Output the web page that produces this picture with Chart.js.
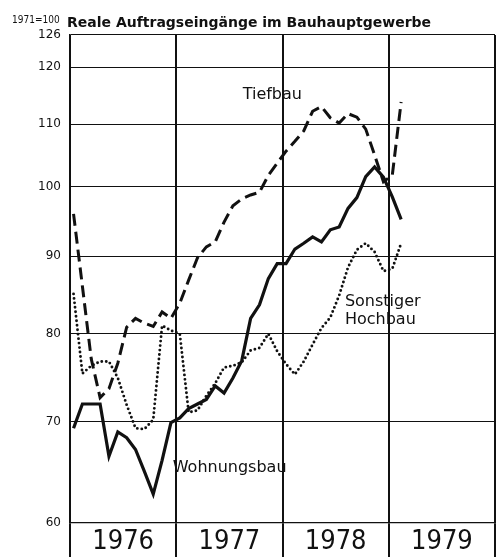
<!DOCTYPE html>
<html>
<head>
<meta charset="utf-8">
<script src="https://cdn.jsdelivr.net/npm/chart.js@4.4.1/dist/chart.umd.min.js"></script>
<style>
  html, body { margin: 0; padding: 0; background: #fff; }
  #wrap { position: relative; width: 496px; height: 557px; }
</style>
</head>
<body>
<div id="wrap"><canvas id="chart"></canvas></div>
<script>
// monthly values, Jan 1976 .. Feb 1979 (1971 = 100)
const years = ["1976", "1977", "1978", "1979"];
const yTicks = [60, 70, 80, 90, 100, 110, 120, 126];

const wohnungsbau = [
  69.3, 71.9, 71.9, 71.9, 66.4, 68.9, 68.3, 67.1, 64.9, 62.7, 66.0, 69.9,
  70.4, 71.4, 71.9, 72.4, 73.9, 73.1, 74.8, 76.8, 81.9, 83.6, 87.0, 89.0,
  89.0, 91.0, 91.8, 92.7, 92.0, 93.7, 94.1, 96.8, 98.4, 101.6, 103.1, 101.5,
  98.5, 95.2
];
const tiefbau = [
  96.0, 86.0, 77.0, 72.6, 73.6, 76.5, 80.8, 81.9, 81.3, 80.9, 82.7, 81.9,
  83.8, 86.8, 89.8, 91.3, 92.0, 94.8, 97.2, 98.2, 98.8, 99.2, 101.8, 103.7,
  105.6, 107.2, 108.9, 112.2, 113.0, 111.1, 110.2, 111.8, 111.2, 109.2, 105.0, 100.8,
  101.8, 113.8
];
const sonstigerHochbau = [
  85.0, 75.3, 76.2, 76.7, 76.7, 74.8, 71.8, 69.3, 69.2, 70.2, 81.0, 80.4,
  80.0, 71.0, 71.2, 72.8, 74.2, 76.0, 76.2, 76.6, 78.0, 78.3, 80.0, 77.9,
  76.4, 75.2, 76.7, 78.7, 80.7, 82.0, 84.8, 88.5, 90.9, 91.8, 90.6, 88.0,
  88.3, 91.8
];

// series labels, placed in data coordinates (month, index value)
const seriesLabels = [
  { text: "Tiefbau", x: 19.5, y: 115.1 },
  { text: "Sonstiger", x: 31.05, y: 84.0 },
  { text: "Hochbau", x: 31.05, y: 81.7 },
  { text: "Wohnungsbau", x: 11.6, y: 65.2 },
];

function toPoints(arr) {
  return arr.map((v, i) => ({ x: i + 0.4, y: v }));
}

const textPlugin = {
  id: "texts",
  afterDraw(chart) {
    const { ctx } = chart;
    const xs = chart.scales.x;
    const ys = chart.scales.y;
    ctx.save();
    ctx.fillStyle = "#111";
    ctx.textBaseline = "alphabetic";
    ctx.font = "10px 'DejaVu Sans Condensed', 'DejaVu Sans'";
    ctx.fillText("1971=100", 12, 23);
    ctx.font = "bold 14px 'DejaVu Sans'";
    ctx.fillText("Reale Auftragseingänge im Bauhauptgewerbe", 67, 27);

    ctx.font = "16px 'DejaVu Sans'";
    ctx.textBaseline = "middle";
    seriesLabels.forEach(l => {
      ctx.fillText(l.text, xs.getPixelForValue(l.x), ys.getPixelForValue(l.y));
    });
    ctx.restore();
  },
};

new Chart(document.getElementById("chart"), {
  type: "line",
  data: {
    datasets: [
      {
        label: "Wohnungsbau",
        data: toPoints(wohnungsbau),
        borderColor: "#111",
        borderWidth: 3.2,
        pointRadius: 0,
        tension: 0,
      },
      {
        label: "Tiefbau",
        data: toPoints(tiefbau),
        borderColor: "#111",
        borderWidth: 3,
        borderDash: [12, 6],
        pointRadius: 0,
        tension: 0,
      },
      {
        label: "Sonstiger Hochbau",
        data: toPoints(sonstigerHochbau),
        borderColor: "#111",
        borderWidth: 2.9,
        borderDash: [0, 4.5],
        borderCapStyle: "round",
        pointRadius: 0,
        tension: 0,
      },
    ],
  },
  options: {
    responsive: true,
    maintainAspectRatio: false,
    animation: false,
    layout: { padding: { top: 35, right: 1, left: 0, bottom: 0 } },
    plugins: { legend: { display: false }, tooltip: { enabled: false } },
    scales: {
      x: {
        type: "linear",
        min: 0,
        max: 48,
        afterBuildTicks: s => {
          s.ticks = [0, 6, 12, 18, 24, 30, 36, 42, 48].map(v => ({ value: v }));
        },
        afterFit: s => { s.height = 34; },
        border: { display: true, color: "#111", width: 1.3 },
        grid: {
          color: c => (c.tick && c.tick.value % 12 === 0 ? "#111" : "rgba(0,0,0,0)"),
          lineWidth: 2,
          tickLength: 34,
        },
        ticks: {
          padding: -31,
          maxRotation: 0,
          autoSkip: false,
          color: "#111",
          font: { family: "'Liberation Sans Narrow', 'DejaVu Sans Condensed', sans-serif", size: 27 },
          callback: v => (v % 12 === 6 ? years[(v - 6) / 12] : ""),
        },
      },
      y: {
        type: "logarithmic",
        min: 60,
        max: 126,
        afterBuildTicks: s => {
          s.ticks = yTicks.map(v => ({ value: v }));
        },
        afterFit: s => { s.width = 70; },
        border: { display: true, color: "#111", width: 1.5 },
        grid: { color: "#111", lineWidth: 1.1, drawTicks: false },
        ticks: {
          padding: 9,
          color: "#111",
          font: { family: "'DejaVu Sans'", size: 12 },
          callback: v => String(v),
        },
      },
    },
  },
  plugins: [textPlugin],
});
</script>
</body>
</html>
